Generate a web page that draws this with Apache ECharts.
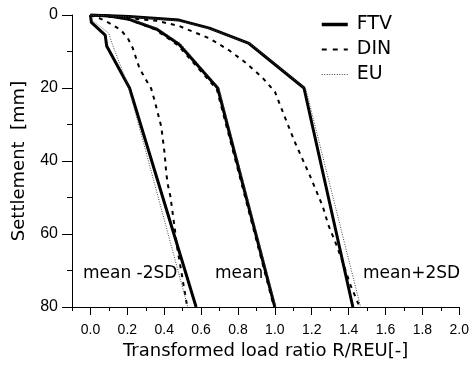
<!DOCTYPE html>
<html>
<head>
<meta charset="utf-8">
<script src="https://cdn.jsdelivr.net/npm/echarts@6/dist/echarts.min.js"></script>
<style>html,body{margin:0;padding:0;background:#fff}#c{width:472px;height:365px}</style>
</head>
<body>
<div id="c"></div>
<script>
// Transformed load ratio R/REU [-] vs settlement [mm]
var xTicks = [0.0, 0.2, 0.4, 0.6, 0.8, 1.0, 1.2, 1.4, 1.6, 1.8, 2.0];
var yTicks = [0, 20, 40, 60, 80];
var groupLabels = ['mean -2SD', 'mean', 'mean+2SD'];

// mean -2SD
var ftvMinus = [[0,0],[0.005,2],[0.08,5.5],[0.088,8.5],[0.212,20],[0.573,80]];
var dinMinus = [[0,0],[0.05,0.9],[0.113,2.5],[0.165,4.1],[0.203,6.4],[0.23,9.1],[0.248,11.9],[0.266,14.6],[0.302,17.8],[0.329,20.1],[0.347,23.3],[0.365,26.8],[0.384,30.6],[0.393,34.2],[0.402,37.8],[0.411,43.3],[0.42,46.6],[0.434,49.8],[0.441,52.5],[0.456,58],[0.468,63],[0.495,71],[0.525,80]];
var euMinus  = [[0,0],[0.01,1.5],[0.1,5],[0.115,7.5],[0.205,19.5],[0.528,80]];
// mean
var ftvMean = [[0,0],[0.1,0.3],[0.21,1.2],[0.36,3.9],[0.48,8],[0.69,20],[1.0,80]];
var dinMean = [[0,0],[0.1,0.4],[0.2,1.1],[0.35,3.9],[0.475,8.3],[0.685,20.3],[0.995,80]];
var euMean  = [[0,0],[0.1,0.2],[0.22,1.1],[0.37,3.8],[0.49,7.9],[0.697,20],[1.006,80]];
// mean+2SD
var ftvPlus = [[0,0],[0.21,0.4],[0.48,1.4],[0.645,3.6],[0.86,7.8],[1.158,20],[1.423,80]];
var dinPlus = [[0,0],[0.21,0.9],[0.36,1.6],[0.48,3],[0.645,6.4],[0.75,9.6],[0.84,13],[0.93,17],[1.0,21],[1.07,30],[1.11,35],[1.19,44],[1.26,52.5],[1.29,57.5],[1.33,62.5],[1.37,68],[1.41,74],[1.46,80]];
var euPlus  = [[0,0],[0.21,0.5],[0.48,1.6],[0.65,3.8],[0.87,8],[1.168,20.3],[1.465,80]];

var styles = {
  FTV: {color:'#000', width:3, type:'solid'},
  DIN: {color:'#000', width:2, type:[4,5]},
  EU:  {color:'#444', width:1, type:[1,1.5]}
};
function mk(name, data) {
  var s = styles[name];
  return {name:name, type:'line', data:data, showSymbol:false, symbol:'none', smooth:false,
    lineStyle:{color:s.color, width:s.width, type:s.type}, itemStyle:{color:s.color}, z:3,
    emphasis:{disabled:true}};
}
var textFont = 'DejaVu Sans';
var chart = echarts.init(document.getElementById('c'));
chart.setOption({
  animation:false,
  grid:{left:72, right:12, top:15, bottom:58, containLabel:false},
  legend:{orient:'vertical', left:315, top:10, itemWidth:26, itemHeight:14, itemGap:6,
    data:[
      {name:'FTV', lineStyle:{width:3.5}},
      {name:'DIN', lineStyle:{width:2, type:[5,6]}},
      {name:'EU', lineStyle:{width:1, type:[1,1.5]}}
    ],
    itemStyle:{opacity:0, color:'transparent', borderWidth:0},
    textStyle:{fontFamily:textFont, fontSize:19, color:'#000', padding:[0,0,0,4]}},
  xAxis:[{
    type:'value', min:-0.1, max:2.0, interval:0.1,
    axisLine:{show:true, onZero:false, lineStyle:{color:'#000', width:1}},
    axisTick:{show:true, length:4, lineStyle:{color:'#000'}},
    splitLine:{show:false},
    axisLabel:{margin:16, fontFamily:'Liberation Sans', fontSize:14, color:'#000',
      formatter:function(v){
        var r = Math.round(v*10);
        for (var i=0;i<xTicks.length;i++){ if (Math.round(xTicks[i]*10)===r) return xTicks[i].toFixed(1); }
        return '';
      }},
    name:'Transformed load ratio R/REU[-]', nameLocation:'middle', nameGap:33,
    nameTextStyle:{fontFamily:textFont, fontSize:18, color:'#000'}
  },{
    type:'value', min:-0.1, max:2.0, position:'bottom',
    axisLine:{show:false, onZero:false}, splitLine:{show:false}, axisLabel:{show:false},
    axisTick:{show:true, length:8, lineStyle:{color:'#000'}, customValues:xTicks}
  }],
  yAxis:{
    type:'value', inverse:true, min:0, max:80, interval:20,
    axisLine:{show:true, onZero:false, lineStyle:{color:'#000', width:1}},
    axisTick:{show:true, length:10, lineStyle:{color:'#000'}},
    minorTick:{show:true, splitNumber:2, length:5, lineStyle:{color:'#000'}},
    splitLine:{show:false}, minorSplitLine:{show:false},
    axisLabel:{margin:14, fontFamily:'Liberation Sans', fontSize:16, color:'#000',
      formatter:function(v){ return yTicks.indexOf(v) >= 0 ? String(v) : ''; }},
    name:'Settlement  [mm]', nameLocation:'middle', nameRotate:90, nameGap:44,
    nameTextStyle:{fontFamily:textFont, fontSize:18, color:'#000'}
  },
  graphic:[
    {type:'text', left:83, top:265, z:0, style:{text:groupLabels[0], font:'17px "DejaVu Sans"', fill:'#000'}},
    {type:'text', left:215, top:265, z:0, style:{text:groupLabels[1], font:'17px "DejaVu Sans"', fill:'#000'}},
    {type:'text', left:363, top:265, z:0, style:{text:groupLabels[2], font:'17px "DejaVu Sans"', fill:'#000'}}
  ],
  series:[
    mk('FTV', ftvMinus), mk('DIN', dinMinus), mk('EU', euMinus),
    mk('FTV', ftvMean), mk('DIN', dinMean), mk('EU', euMean),
    mk('FTV', ftvPlus), mk('DIN', dinPlus), mk('EU', euPlus)
  ]
});
</script>
</body>
</html>
